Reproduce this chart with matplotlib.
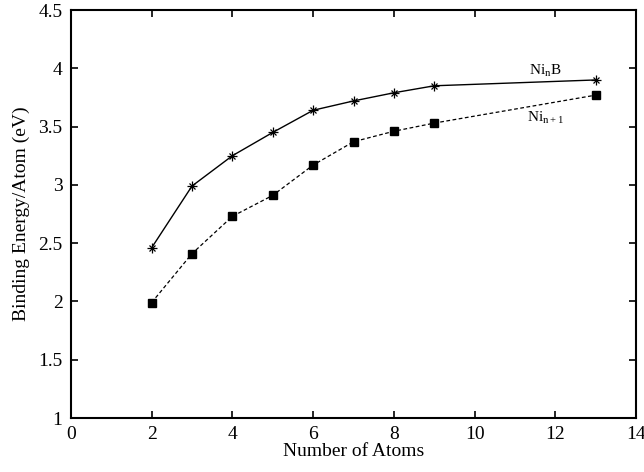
import matplotlib
matplotlib.use("Agg")
import matplotlib.pyplot as plt

n_atoms_b = [2, 3, 4, 5, 6, 7, 8, 9, 13]
e_nib = [2.46, 2.99, 3.25, 3.45, 3.64, 3.72, 3.79, 3.85, 3.90]
n_atoms_ni = [2, 3, 4, 5, 6, 7, 8, 9, 13]
e_ni = [1.99, 2.41, 2.73, 2.91, 3.17, 3.37, 3.46, 3.53, 3.77]

plt.rcParams['font.family'] = ['Liberation Serif', 'DejaVu Serif']
plt.rcParams['mathtext.fontset'] = 'custom'
plt.rcParams['mathtext.rm'] = 'Liberation Serif'
plt.rcParams['mathtext.it'] = 'Liberation Serif'

fig = plt.figure(figsize=(6.44, 4.72), dpi=100)
ax = fig.add_axes([0.110, 0.1144, 0.878, 0.8644])

# NinB: solid line with asterisk markers (+ and x overlaid)
ax.plot(n_atoms_b, e_nib, color='black', lw=1.0, ls='-')
ax.plot(n_atoms_b, e_nib, color='black', lw=0, marker='+', ms=6.5, mew=0.9)
ax.plot(n_atoms_b, e_nib, color='black', lw=0, marker='x', ms=4.5, mew=0.9)

# Ni_{n+1}: dashed line with filled squares
ax.plot(n_atoms_ni, e_ni, color='black', lw=0.9, ls=(0, (3, 2)),
        marker='s', ms=5.5)

ax.text(11.75, 3.98, r'Ni$_\mathrm{n}$B', fontsize=11, ha='center', va='center')
ax.text(11.75, 3.57, r'Ni$_\mathrm{n+1}$', fontsize=11, ha='center', va='center')

ax.set_xlim(0, 14)
ax.set_ylim(1, 4.5)
ax.set_xticks(range(0, 15, 2))
ax.set_yticks([1, 1.5, 2, 2.5, 3, 3.5, 4, 4.5])
ax.set_yticklabels(['1', '1.5', '2', '2.5', '3', '3.5', '4', '4.5'])
ax.tick_params(direction='in', top=True, right=True, length=5, width=1.2,
               labelsize=14, pad=6)
for s in ax.spines.values():
    s.set_linewidth(1.5)

ax.set_xlabel('Number of Atoms', fontsize=14, labelpad=0)
ax.set_ylabel('Binding Energy/Atom (eV)', fontsize=14, labelpad=6)

fig.savefig('out.png', dpi=100)
